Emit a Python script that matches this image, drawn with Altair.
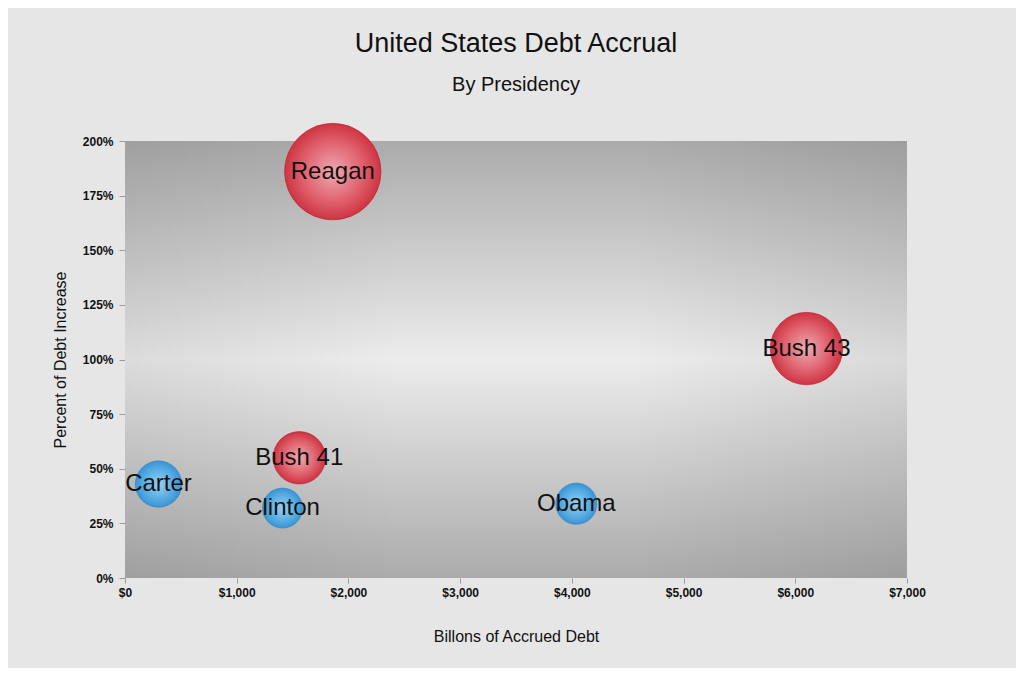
import altair as alt
import pandas as pd

presidents = ["Carter", "Reagan", "Bush 41", "Clinton", "Bush 43", "Obama"]
accrued_debt = [300, 1860, 1560, 1410, 6100, 4040]
pct_increase = [43, 186, 55, 32, 105, 34]
party = ["D", "R", "R", "D", "R", "D"]

df = pd.DataFrame({
    "president": presidents,
    "debt": accrued_debt,
    "pct": pct_increase,
    "party": party,
})

W, H = 782, 437
FONT = "Liberation Sans"
NARROW = "Liberation Sans Narrow, Liberation Sans"

x_enc = alt.X("debt:Q", scale=alt.Scale(domain=[0, 7000], nice=False),
              axis=alt.Axis(title="Billons of Accrued Debt", values=list(range(0, 7001, 1000)),
                            format="$,.0f", grid=False, domain=False, tickSize=5,
                            tickColor="#9a9a9a", labelFont=NARROW, labelFontWeight="bold",
                            labelFontSize=12, labelColor="#111", labelPadding=4, labelFlush=False,
                            titleFont=NARROW, titleFontSize=16, titleFontWeight="normal",
                            titleColor="#111", titlePadding=30))
y_enc = alt.Y("pct:Q", scale=alt.Scale(domain=[0, 200], nice=False),
              axis=alt.Axis(title="Percent of Debt Increase", values=list(range(0, 201, 25)),
                            labelExpr="datum.value + '%'", grid=False, domain=False, tickSize=6,
                            tickColor="#9a9a9a", labelFont=NARROW, labelFontWeight="bold",
                            labelFontSize=12, labelColor="#111", labelPadding=6, labelFlush=False,
                            titleFont=NARROW, titleFontSize=16, titleFontWeight="normal",
                            titleColor="#111", titlePadding=14))
size_enc = alt.Size("pct:Q", scale=alt.Scale(domain=[0, 186], range=[0, 9300]), legend=None)

bg_v = alt.Chart(alt.Data(values=[{}])).mark_rect(
    fill=alt.LinearGradient(gradient="linear", x1=0, y1=0, x2=0, y2=1,
                            stops=[alt.GradientStop(offset=0, color="#ababab"),
                                   alt.GradientStop(offset=0.5, color="#ececec"),
                                   alt.GradientStop(offset=1, color="#ababab")])
).encode(x=alt.value(0), x2=alt.value(W), y=alt.value(0), y2=alt.value(H))

bg_h = alt.Chart(alt.Data(values=[{}])).mark_rect(
    fill=alt.LinearGradient(gradient="linear", x1=0, y1=0, x2=1, y2=0,
                            stops=[alt.GradientStop(offset=0, color="rgba(0,0,0,0.07)"),
                                   alt.GradientStop(offset=0.35, color="rgba(0,0,0,0)"),
                                   alt.GradientStop(offset=0.65, color="rgba(0,0,0,0)"),
                                   alt.GradientStop(offset=1, color="rgba(0,0,0,0.08)")])
).encode(x=alt.value(0), x2=alt.value(W), y=alt.value(0), y2=alt.value(H))

red_grad = alt.RadialGradient(gradient="radial", x1=0.5, y1=0.5, r1=0, x2=0.5, y2=0.5, r2=0.5,
                              stops=[alt.GradientStop(offset=0, color="#eeaab1"),
                                     alt.GradientStop(offset=0.6, color="#e06470"),
                                     alt.GradientStop(offset=1, color="#cf3442")])
blue_grad = alt.RadialGradient(gradient="radial", x1=0.5, y1=0.5, r1=0, x2=0.5, y2=0.5, r2=0.5,
                               stops=[alt.GradientStop(offset=0, color="#9ad0f0"),
                                      alt.GradientStop(offset=0.6, color="#5cb0e4"),
                                      alt.GradientStop(offset=1, color="#3a94d4")])

base = alt.Chart(df)

red = base.transform_filter(alt.datum.party == "R").mark_circle(
    fill=red_grad, opacity=1, stroke="#b8202e", strokeWidth=1, strokeOpacity=0.6
).encode(x=x_enc, y=y_enc, size=size_enc)

blue = base.transform_filter(alt.datum.party == "D").mark_circle(
    fill=blue_grad, opacity=1, stroke="#2a84c4", strokeWidth=1, strokeOpacity=0.6
).encode(x=x_enc, y=y_enc, size=size_enc)

labels = base.mark_text(font=FONT, fontSize=24, color="#111", align="center", baseline="middle").encode(
    x="debt:Q", y="pct:Q", text="president:N")

chart = alt.layer(bg_v, bg_h, red, blue, labels).properties(
    width=W, height=H,
    title=alt.TitleParams(text="United States Debt Accrual", subtitle="By Presidency",
                          anchor="middle", font=FONT, fontSize=27, fontWeight="normal",
                          color="#111", subtitleFont=FONT, subtitleFontSize=20,
                          subtitleColor="#111", subtitlePadding=17, offset=25),
    autosize=alt.AutoSizeParams(type="none"),
    padding={"left": 117, "top": 133, "right": 109, "bottom": 90},
    background="#e6e6e6",
).configure_view(stroke=None)

chart.save("out.html", embed_options={"renderer": "svg", "actions": False})
